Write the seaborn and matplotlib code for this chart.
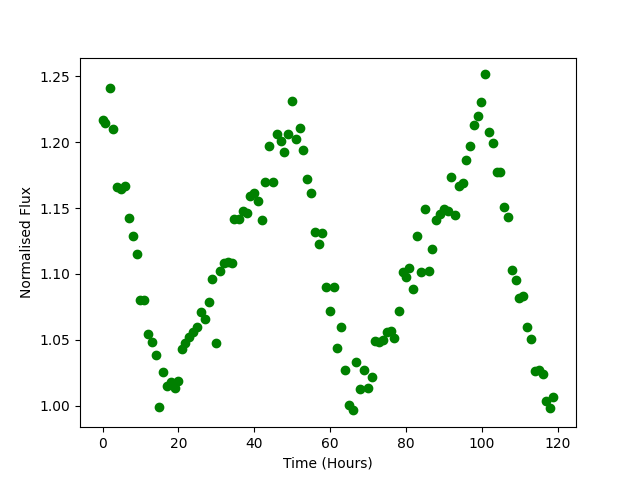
import matplotlib
matplotlib.use('Agg')
import matplotlib.pyplot as plt
import seaborn as sns
import pandas as pd

# Light curve readings (time in hours, normalised flux)
time_hours = [
    0.0, 0.7, 1.85, 2.83, 3.81, 4.86, 5.92, 6.87, 7.93, 8.99,
    9.88, 10.94, 11.89, 12.95, 14.01, 14.80, 15.86, 16.91, 17.97, 19.03,
    19.93, 20.88, 21.86, 22.91, 23.78, 24.84, 25.90, 26.96, 28.01, 28.81,
    29.86, 30.92, 31.98, 33.03, 34.09, 34.80, 36.05, 37.00, 38.16, 38.77,
    39.90, 40.96, 42.02, 42.81, 43.87, 44.93, 45.98, 47.04, 47.83, 48.89,
    49.95, 51.00, 52.06, 52.85, 53.91, 54.97, 56.03, 57.08, 57.98, 58.85,
    59.99, 61.15, 61.84, 62.90, 63.95, 65.01, 66.07, 66.86, 67.92, 68.97,
    70.03, 71.09, 71.75, 72.94, 74.00, 75.05, 76.11, 76.90, 78.14, 79.28,
    79.99, 80.87, 81.92, 82.98, 83.96, 85.09, 85.99, 86.94, 88.00, 88.98,
    90.04, 91.09, 91.89, 93.02, 94.08, 95.14, 95.93, 96.91, 98.04, 99.10,
    99.89, 100.95, 102.01, 103.07, 103.96, 104.84, 105.97, 107.03, 108.09, 109.14,
    109.94, 111.00, 112.05, 113.11, 114.17, 115.07, 116.12, 117.00, 118.13, 118.92,
]
norm_flux = [
    1.2169, 1.2144, 1.2409, 1.2098, 1.1658, 1.1643, 1.1668, 1.1423, 1.1287, 1.1150,
    1.0804, 1.0804, 1.0544, 1.0483, 1.0384, 0.9990, 1.0256, 1.0146, 1.0177, 1.0131,
    1.0190, 1.0430, 1.0475, 1.0518, 1.0563, 1.0597, 1.0710, 1.0660, 1.0786, 1.0961,
    1.0475, 1.1021, 1.1082, 1.1092, 1.1082, 1.1416, 1.1416, 1.1481, 1.1461, 1.1592,
    1.1617, 1.1552, 1.1408, 1.1696, 1.1969, 1.1696, 1.2062, 1.2007, 1.1924, 1.2062,
    1.2310, 1.2022, 1.2106, 1.1939, 1.1719, 1.1613, 1.1317, 1.1226, 1.1310, 1.0900,
    1.0718, 1.0900, 1.0438, 1.0597, 1.0271, 1.0008, 0.9964, 1.0331, 1.0124, 1.0271,
    1.0131, 1.0218, 1.0493, 1.0480, 1.0500, 1.0556, 1.0569, 1.0513, 1.0720, 1.1018,
    1.0976, 1.1044, 1.0885, 1.1289, 1.1014, 1.1492, 1.1021, 1.1188, 1.1408, 1.1456,
    1.1494, 1.1479, 1.1734, 1.1448, 1.1668, 1.1689, 1.1865, 1.1969, 1.2128, 1.2197,
    1.2303, 1.2515, 1.2075, 1.1992, 1.1772, 1.1772, 1.1509, 1.1431, 1.1029, 1.0953,
    1.0819, 1.0834, 1.0597, 1.0506, 1.0263, 1.0273, 1.0240, 1.0033, 0.9983, 1.0066,
]

df = pd.DataFrame({'time': time_hours, 'flux': norm_flux})

fig, ax = plt.subplots(figsize=(6.4, 4.8), dpi=100)
sns.scatterplot(data=df, x='time', y='flux', color='green', s=36,
                edgecolor='green', linewidth=1, ax=ax)
ax.set_xlabel('Time (Hours)')
ax.set_ylabel('Normalised Flux')

plt.savefig('out.png', dpi=100)
plt.close()
